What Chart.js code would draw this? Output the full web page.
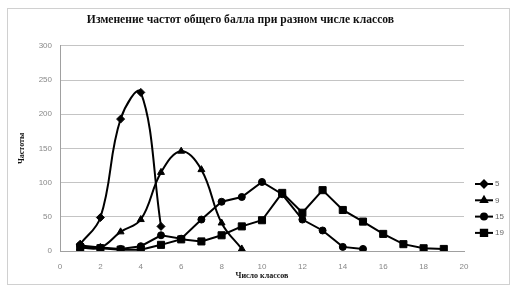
<!DOCTYPE html>
<html lang="ru">
<head>
<meta charset="UTF-8">
<title>Изменение частот общего балла</title>
<script src="https://cdn.jsdelivr.net/npm/chart.js"></script>
<style>
    html, body { margin: 0; padding: 0; background: #fff; }
    #wrap { width: 512px; height: 289px; }
</style>
</head>
<body>
<div id="wrap"><canvas id="chart" width="512" height="289"></canvas></div>
<script>
    // data
    const seriesNames = ['5', '9', '15', '19'];
    const x5 = [1, 2, 3, 4, 5];
    const y5 = [10, 49, 193, 232, 36];
    const x9 = [1, 2, 3, 4, 5, 6, 7, 8, 9];
    const y9 = [5, 5, 28, 46, 115, 146, 119, 41, 3];
    const x15 = [1, 2, 3, 4, 5, 6, 7, 8, 9, 10, 11, 12, 13, 14, 15];
    const y15 = [8, 5, 3, 7, 23, 18, 46, 72, 79, 101, 83, 46, 30, 6, 3];
    const x19 = [1, 2, 3, 4, 5, 6, 7, 8, 9, 10, 11, 12, 13, 14, 15, 16, 17, 18, 19];
    const y19 = [5, 4, 2, 2, 9, 17, 14, 23, 36, 45, 85, 56, 89, 60, 43, 25, 10, 4, 3];
    const xTicks = [0, 2, 4, 6, 8, 10, 12, 14, 16, 18, 20];

    const toPts = (xs, ys) => xs.map((x, i) => ({ x: x, y: ys[i] }));

    const markers = [
        { style: 'rectRot', r: 4, tension: 0.4 },
        { style: 'triangle', r: 4, tension: 0.4 },
        { style: 'circle', r: 3.5, tension: 0 },
        { style: 'rect', r: 5, tension: 0 }
    ];
    const allData = [toPts(x5, y5), toPts(x9, y9), toPts(x15, y15), toPts(x19, y19)];

    const datasets = allData.map((d, i) => ({
        label: seriesNames[i],
        data: d,
        borderColor: '#000',
        backgroundColor: '#000',
        borderWidth: 2,
        pointStyle: markers[i].style,
        pointRadius: markers[i].r,
        pointBorderWidth: 1,
        tension: markers[i].tension,
        fill: false
    }));

    // frame + legend drawn by hand (legend sits low on the right)
    const extras = {
        id: 'extras',
        beforeDraw(chart) {
            const c = chart.ctx;
            c.save();
            c.fillStyle = '#fff';
            c.fillRect(0, 0, chart.width, chart.height);
            c.strokeStyle = '#d0d0d0';
            c.lineWidth = 1;
            c.strokeRect(7.5, 8.5, 502, 276);
            c.restore();
        },
        afterDraw(chart) {
            const c = chart.ctx;
            const left = chart.chartArea.right + 11;
            c.save();
            chart.data.datasets.forEach((ds, i) => {
                const y = 184 + i * 16.3;
                c.strokeStyle = '#000';
                c.lineWidth = 2;
                c.beginPath();
                c.moveTo(left, y);
                c.lineTo(left + 18, y);
                c.stroke();
                c.fillStyle = '#000';
                Chart.helpers.drawPoint(c, { pointStyle: ds.pointStyle, radius: ds.pointRadius - 0.5, borderWidth: 1 }, left + 9, y);
                c.fillStyle = '#666';
                c.font = '8px "Liberation Sans", Arial, sans-serif';
                c.textBaseline = 'middle';
                c.fillText(ds.label, left + 20, y);
            });
            c.restore();
        }
    };

    new Chart(document.getElementById('chart'), {
        type: 'line',
        data: { datasets: datasets },
        plugins: [extras],
        options: {
            responsive: false,
            animation: false,
            layout: { padding: { left: 17, right: 48, top: 4, bottom: 8 } },
            plugins: {
                legend: { display: false },
                tooltip: { enabled: false },
                title: {
                    display: true,
                    text: 'Изменение частот общего балла при разном числе классов',
                    color: '#111',
                    font: { family: '"Liberation Serif", "Times New Roman", serif', size: 11.6, weight: 'bold' },
                    padding: { top: 9, bottom: 19 }
                }
            },
            scales: {
                x: {
                    type: 'linear',
                    min: 0,
                    max: 20,
                    afterBuildTicks(axis) { axis.ticks = xTicks.map(v => ({ value: v })); },
                    afterFit(axis) { axis.height = 30; },
                    grid: { display: false, drawTicks: true },
                    border: { color: '#a0a0a0' },
                    ticks: { color: '#888', font: { size: 8 }, padding: 3 },
                    title: {
                        display: true,
                        text: 'Число классов',
                        color: '#111',
                        font: { family: '"Liberation Serif", "Times New Roman", serif', size: 8, weight: 'bold' },
                        padding: { top: 0, bottom: 0 }
                    }
                },
                y: {
                    min: 0,
                    max: 300,
                    afterFit(axis) { axis.width = 43; },
                    ticks: { stepSize: 50, color: '#888', font: { size: 8 }, padding: 8 },
                    grid: { color: '#c4c4c4', drawTicks: false },
                    border: { color: '#a0a0a0' },
                    title: {
                        display: true,
                        text: 'Частоты',
                        color: '#111',
                        font: { family: '"Liberation Serif", "Times New Roman", serif', size: 8, weight: 'bold' },
                        padding: { top: 0, bottom: 4 }
                    }
                }
            }
        }
    });
</script>
</body>
</html>
